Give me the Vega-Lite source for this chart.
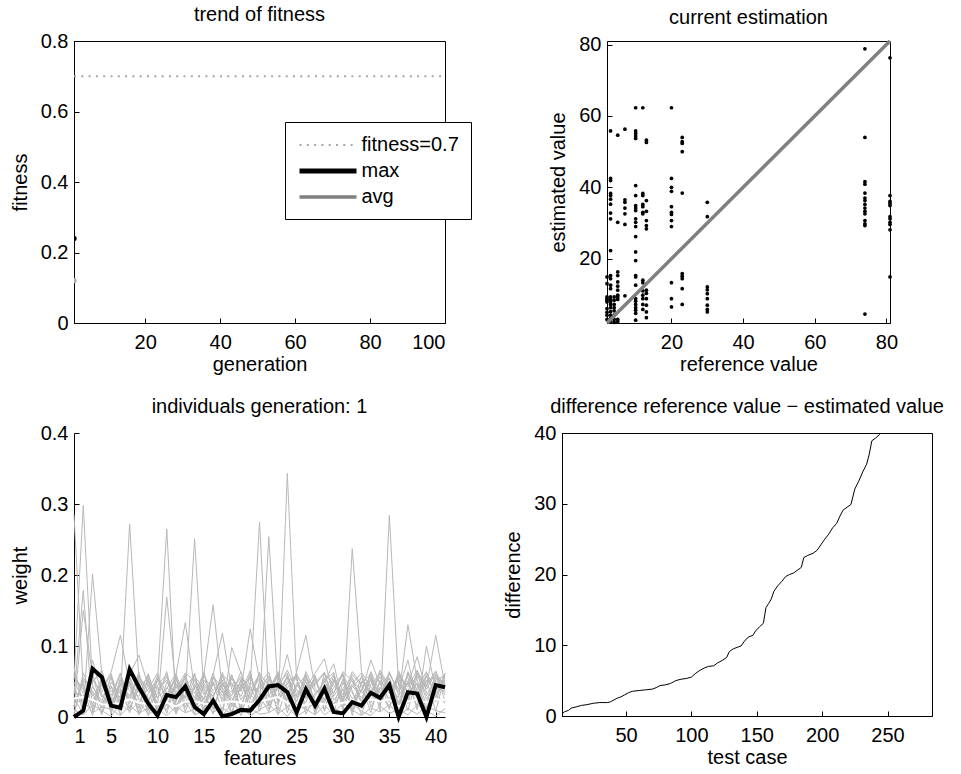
{
  "$schema": "https://vega.github.io/schema/vega-lite/v6.json",
  "background": "white",
  "padding": {"left": 9, "top": 4, "right": 5, "bottom": 5},
  "config": {
    "font": "Liberation Sans",
    "view": {"stroke": "black", "strokeWidth": 1},
    "axis": {"grid": false, "domainColor": "black", "tickColor": "black", "labelColor": "black", "titleColor": "black", "labelFontSize": 20, "titleFontSize": 20, "titleFontWeight": "normal", "tickSize": -5, "labelPadding": 11, "labelFont": "Liberation Sans", "titleFont": "Liberation Sans", "titlePadding": 10},
    "axisX": {"labelPadding": 14, "titlePadding": 2},
    "title": {"fontSize": 20, "fontWeight": "normal", "color": "black", "font": "Liberation Sans", "offset": 6, "anchor": "middle", "frame": "group"}
  },
  "datasets": {
    "fit": [
      {"s": "fitness=0.7", "g": 1, "v": 0.7},
      {"s": "fitness=0.7", "g": 100, "v": 0.7},
      {"s": "max", "g": 1, "v": 0.24},
      {"s": "avg", "g": 1, "v": 0.12}
    ],
    "est": [
      {"r":2,"e":14.9},{"r":2,"e":13.0},{"r":2,"e":9.3},{"r":2,"e":8.8},{"r":2,"e":8.4},{"r":2,"e":7.9},{"r":2,"e":6.0},{"r":2,"e":5.0},{"r":2,"e":4.2},{"r":2,"e":3.0},
      {"r":3,"e":55.8},{"r":3,"e":42.5},{"r":3,"e":41.9},{"r":3,"e":38.3},{"r":3,"e":37.7},{"r":3,"e":36.7},{"r":3,"e":35.3},{"r":3,"e":32.8},{"r":3,"e":31.2},{"r":3,"e":22.3},{"r":3,"e":15.3},{"r":3,"e":14.4},{"r":3,"e":12.6},{"r":3,"e":11.6},{"r":3,"e":9.3},{"r":3,"e":8.6},{"r":3,"e":8.0},{"r":3,"e":7.2},{"r":3,"e":6.3},{"r":3,"e":5.2},{"r":3,"e":4.2},{"r":3,"e":3.3},{"r":3,"e":2.5},
      {"r":4,"e":9.3},{"r":4,"e":8.4},{"r":4,"e":7.2},{"r":4,"e":6.3},{"r":4,"e":5.4},{"r":4,"e":4.2},{"r":4,"e":3.0},{"r":4,"e":2.2},
      {"r":5,"e":54.6},{"r":5,"e":30.2},{"r":5,"e":16.3},{"r":5,"e":15.3},{"r":5,"e":13.5},{"r":5,"e":12.3},{"r":5,"e":11.2},{"r":5,"e":9.8},{"r":5,"e":9.3},{"r":5,"e":8.6},{"r":5,"e":3.0},{"r":5,"e":2.4},
      {"r":7,"e":56.3},{"r":7,"e":36.5},{"r":7,"e":35.8},{"r":7,"e":34.2},{"r":7,"e":32.6},{"r":7,"e":29.6},{"r":7,"e":9.6},
      {"r":10,"e":62.3},{"r":10,"e":55.8},{"r":10,"e":55.1},{"r":10,"e":54.4},{"r":10,"e":53.7},{"r":10,"e":40.5},{"r":10,"e":37.7},{"r":10,"e":34.9},{"r":10,"e":34.2},{"r":10,"e":33.5},{"r":10,"e":31.2},{"r":10,"e":30.2},{"r":10,"e":29.0},{"r":10,"e":26.2},{"r":10,"e":21.9},{"r":10,"e":19.5},{"r":10,"e":15.3},{"r":10,"e":14.9},{"r":10,"e":12.6},{"r":10,"e":8.8},{"r":10,"e":8.1},{"r":10,"e":7.2},{"r":10,"e":6.3},{"r":10,"e":5.6},{"r":10,"e":4.7},{"r":10,"e":2.8},
      {"r":12,"e":62.3},{"r":12,"e":38.3},{"r":12,"e":37.7},{"r":12,"e":35.2},{"r":12,"e":34.6},{"r":12,"e":33.0},{"r":12,"e":32.6},{"r":12,"e":14.0},{"r":12,"e":13.3},{"r":12,"e":11.0},{"r":12,"e":9.8},{"r":12,"e":8.8},{"r":12,"e":7.2},{"r":12,"e":5.8},
      {"r":13,"e":53.2},{"r":13,"e":52.6},{"r":13,"e":36.3},{"r":13,"e":33.3},{"r":13,"e":30.7},{"r":13,"e":29.3},{"r":13,"e":28.4},{"r":13,"e":11.2},{"r":13,"e":10.3},{"r":13,"e":8.8},{"r":13,"e":7.0},{"r":13,"e":5.1},{"r":13,"e":3.5},
      {"r":20,"e":62.3},{"r":20,"e":42.5},{"r":20,"e":40.0},{"r":20,"e":38.9},{"r":20,"e":34.6},{"r":20,"e":33.0},{"r":20,"e":32.4},{"r":20,"e":30.7},{"r":20,"e":29.0},{"r":20,"e":13.3},{"r":20,"e":8.8},{"r":20,"e":6.5},
      {"r":23,"e":54.0},{"r":23,"e":52.8},{"r":23,"e":52.3},{"r":23,"e":50.0},{"r":23,"e":38.4},{"r":23,"e":15.8},{"r":23,"e":15.1},{"r":23,"e":14.4},{"r":23,"e":11.6},{"r":23,"e":7.2},
      {"r":30,"e":35.8},{"r":30,"e":31.8},{"r":30,"e":12.1},{"r":30,"e":11.3},{"r":30,"e":10.2},{"r":30,"e":8.8},{"r":30,"e":7.0},{"r":30,"e":5.8},{"r":30,"e":5.1},
      {"r":74,"e":78.8},{"r":74,"e":54.0},{"r":74,"e":41.6},{"r":74,"e":40.9},{"r":74,"e":38.4},{"r":74,"e":37.0},{"r":74,"e":36.3},{"r":74,"e":35.2},{"r":74,"e":34.2},{"r":74,"e":33.3},{"r":74,"e":32.6},{"r":74,"e":30.7},{"r":74,"e":29.8},{"r":74,"e":29.3},{"r":74,"e":4.5},
      {"r":81,"e":76.3},{"r":81,"e":37.7},{"r":81,"e":36.1},{"r":81,"e":35.5},{"r":81,"e":34.9},{"r":81,"e":31.8},{"r":81,"e":31.2},{"r":81,"e":30.2},{"r":81,"e":29.6},{"r":81,"e":28.1},{"r":81,"e":14.9}
    ],
    "diag": [{"r": 2, "e": 2}, {"r": 81, "e": 81}],
    "ind": [
      {"f":1,"a":0.285,"b":0.052,"c":0.031,"d":0.012,"e":0.044,"f2":0.060,"g":0.005,"h":0.038,"i":0.021,"j":0.049,"k":0.002,"l":0.027,"m":0.057,"n":0.016,"o":0.070,"p":0.035,"q":0.010,"r":0.020,"mx":0.000,"av":0.026},
      {"f":2,"a":0.041,"b":0.298,"c":0.178,"d":0.150,"e":0.009,"f2":0.033,"g":0.055,"h":0.018,"i":0.047,"j":0.026,"k":0.062,"l":0.004,"m":0.039,"n":0.051,"o":0.014,"p":0.029,"q":0.003,"r":0.024,"mx":0.009,"av":0.028},
      {"f":3,"a":0.018,"b":0.045,"c":0.007,"d":0.058,"e":0.201,"f2":0.024,"g":0.036,"h":0.063,"i":0.011,"j":0.052,"k":0.029,"l":0.043,"m":0.002,"n":0.034,"o":0.080,"p":0.049,"q":0.017,"r":0.006,"mx":0.068,"av":0.024},
      {"f":4,"a":0.054,"b":0.013,"c":0.047,"d":0.028,"e":0.061,"f2":0.040,"g":0.019,"h":0.006,"i":0.058,"j":0.035,"k":0.045,"l":0.022,"m":0.050,"n":0.003,"o":0.031,"p":0.066,"q":0.009,"r":0.014,"mx":0.056,"av":0.018},
      {"f":5,"a":0.008,"b":0.058,"c":0.025,"d":0.044,"e":0.016,"f2":0.063,"g":0.037,"h":0.049,"i":0.004,"j":0.061,"k":0.020,"l":0.056,"m":0.030,"n":0.043,"o":0.012,"p":0.024,"q":0.001,"r":0.011,"mx":0.016,"av":0.017},
      {"f":6,"a":0.046,"b":0.021,"c":0.060,"d":0.003,"e":0.052,"f2":0.115,"g":0.028,"h":0.033,"i":0.055,"j":0.014,"k":0.040,"l":0.009,"m":0.062,"n":0.027,"o":0.048,"p":0.036,"q":0.019,"r":0.002,"mx":0.013,"av":0.020},
      {"f":7,"a":0.030,"b":0.050,"c":0.013,"d":0.057,"e":0.026,"f2":0.044,"g":0.272,"h":0.060,"i":0.037,"j":0.047,"k":0.006,"l":0.064,"m":0.019,"n":0.055,"o":0.023,"p":0.011,"q":0.008,"r":0.016,"mx":0.067,"av":0.025},
      {"f":8,"a":0.059,"b":0.006,"c":0.042,"d":0.024,"e":0.063,"f2":0.017,"g":0.051,"h":0.087,"i":0.029,"j":0.003,"k":0.054,"l":0.035,"m":0.046,"n":0.012,"o":0.058,"p":0.040,"q":0.022,"r":0.005,"mx":0.042,"av":0.020},
      {"f":9,"a":0.022,"b":0.047,"c":0.056,"d":0.039,"e":0.011,"f2":0.053,"g":0.002,"h":0.044,"i":0.061,"j":0.032,"k":0.025,"l":0.050,"m":0.008,"n":0.059,"o":0.036,"p":0.018,"q":0.004,"r":0.013,"mx":0.019,"av":0.018},
      {"f":10,"a":0.051,"b":0.028,"c":0.004,"d":0.062,"e":0.034,"f2":0.009,"g":0.045,"h":0.020,"i":0.015,"j":0.056,"k":0.038,"l":0.013,"m":0.053,"n":0.026,"o":0.043,"p":0.058,"q":0.012,"r":0.001,"mx":0.002,"av":0.018},
      {"f":11,"a":0.265,"b":0.040,"c":0.049,"d":0.016,"e":0.057,"f2":0.031,"g":0.060,"h":0.010,"i":0.169,"j":0.023,"k":0.052,"l":0.041,"m":0.028,"n":0.064,"o":0.005,"p":0.034,"q":0.002,"r":0.018,"mx":0.031,"av":0.020},
      {"f":12,"a":0.012,"b":0.061,"c":0.035,"d":0.045,"e":0.004,"f2":0.058,"g":0.024,"h":0.052,"i":0.040,"j":0.060,"k":0.017,"l":0.030,"m":0.055,"n":0.009,"o":0.047,"p":0.021,"q":0.015,"r":0.007,"mx":0.028,"av":0.015},
      {"f":13,"a":0.048,"b":0.019,"c":0.058,"d":0.027,"e":0.042,"f2":0.013,"g":0.050,"h":0.036,"i":0.062,"j":0.133,"k":0.031,"l":0.055,"m":0.007,"n":0.044,"o":0.026,"p":0.060,"q":0.006,"r":0.021,"mx":0.043,"av":0.022},
      {"f":14,"a":0.027,"b":0.054,"c":0.010,"d":0.060,"e":0.023,"f2":0.046,"g":0.033,"h":0.004,"i":0.051,"j":0.039,"k":0.251,"l":0.018,"m":0.043,"n":0.057,"o":0.062,"p":0.014,"q":0.011,"r":0.003,"mx":0.014,"av":0.022},
      {"f":15,"a":0.063,"b":0.032,"c":0.044,"d":0.008,"e":0.058,"f2":0.024,"g":0.061,"h":0.047,"i":0.019,"j":0.012,"k":0.036,"l":0.059,"m":0.026,"n":0.040,"o":0.003,"p":0.052,"q":0.020,"r":0.009,"mx":0.004,"av":0.019},
      {"f":16,"a":0.016,"b":0.049,"c":0.027,"d":0.055,"e":0.037,"f2":0.062,"g":0.011,"h":0.029,"i":0.046,"j":0.057,"k":0.004,"l":0.158,"m":0.060,"n":0.021,"o":0.050,"p":0.033,"q":0.007,"r":0.015,"mx":0.023,"av":0.017},
      {"f":17,"a":0.044,"b":0.007,"c":0.063,"d":0.034,"e":0.052,"f2":0.020,"g":0.048,"h":0.058,"i":0.025,"j":0.041,"k":0.059,"l":0.037,"m":0.118,"n":0.005,"o":0.030,"p":0.046,"q":0.013,"r":0.002,"mx":0.001,"av":0.020},
      {"f":18,"a":0.035,"b":0.059,"c":0.018,"d":0.047,"e":0.006,"f2":0.054,"g":0.030,"h":0.014,"i":0.060,"j":0.022,"k":0.048,"l":0.003,"m":0.039,"n":0.098,"o":0.056,"p":0.027,"q":0.004,"r":0.019,"mx":0.004,"av":0.022},
      {"f":19,"a":0.057,"b":0.024,"c":0.051,"d":0.011,"e":0.045,"f2":0.036,"g":0.064,"h":0.041,"i":0.008,"j":0.053,"k":0.029,"l":0.047,"m":0.015,"n":0.062,"o":0.038,"p":0.002,"q":0.016,"r":0.008,"mx":0.010,"av":0.020},
      {"f":20,"a":0.005,"b":0.043,"c":0.037,"d":0.059,"e":0.028,"f2":0.065,"g":0.018,"h":0.055,"i":0.034,"j":0.010,"k":0.061,"l":0.025,"m":0.049,"n":0.032,"o":0.124,"p":0.044,"q":0.002,"r":0.012,"mx":0.009,"av":0.018},
      {"f":21,"a":0.050,"b":0.014,"c":0.061,"d":0.022,"e":0.060,"f2":0.008,"g":0.042,"h":0.031,"i":0.054,"j":0.046,"k":0.020,"l":0.063,"m":0.035,"n":0.017,"o":0.052,"p":0.274,"q":0.010,"r":0.004,"mx":0.024,"av":0.022},
      {"f":22,"a":0.028,"b":0.254,"c":0.045,"d":0.053,"e":0.019,"f2":0.048,"g":0.057,"h":0.007,"i":0.038,"j":0.063,"k":0.044,"l":0.016,"m":0.058,"n":0.039,"o":0.011,"p":0.030,"q":0.018,"r":0.006,"mx":0.043,"av":0.025},
      {"f":23,"a":0.061,"b":0.037,"c":0.009,"d":0.040,"e":0.054,"f2":0.027,"g":0.003,"h":0.050,"i":0.064,"j":0.020,"k":0.056,"l":0.042,"m":0.023,"n":0.060,"o":0.045,"p":0.018,"q":0.005,"r":0.014,"mx":0.045,"av":0.028},
      {"f":24,"a":0.019,"b":0.056,"c":0.343,"d":0.088,"e":0.031,"f2":0.059,"g":0.047,"h":0.024,"i":0.013,"j":0.058,"k":0.035,"l":0.066,"m":0.041,"n":0.006,"o":0.062,"p":0.050,"q":0.014,"r":0.001,"mx":0.035,"av":0.020},
      {"f":25,"a":0.045,"b":0.003,"c":0.052,"d":0.030,"e":0.063,"f2":0.015,"g":0.056,"h":0.061,"i":0.043,"j":0.027,"k":0.009,"l":0.038,"m":0.055,"n":0.048,"o":0.021,"p":0.058,"q":0.001,"r":0.017,"mx":0.006,"av":0.015},
      {"f":26,"a":0.031,"b":0.060,"c":0.026,"d":0.057,"e":0.115,"f2":0.041,"g":0.012,"h":0.036,"i":0.059,"j":0.049,"k":0.053,"l":0.020,"m":0.004,"n":0.028,"o":0.064,"p":0.039,"q":0.009,"r":0.011,"mx":0.039,"av":0.017},
      {"f":27,"a":0.058,"b":0.021,"c":0.048,"d":0.004,"e":0.040,"f2":0.062,"g":0.033,"h":0.053,"i":0.017,"j":0.006,"k":0.045,"l":0.059,"m":0.030,"n":0.054,"o":0.035,"p":0.013,"q":0.021,"r":0.003,"mx":0.016,"av":0.020},
      {"f":28,"a":0.010,"b":0.046,"c":0.063,"d":0.036,"e":0.025,"f2":0.082,"g":0.049,"h":0.019,"i":0.055,"j":0.042,"k":0.062,"l":0.008,"m":0.051,"n":0.023,"o":0.040,"p":0.061,"q":0.003,"r":0.016,"mx":0.040,"av":0.018},
      {"f":29,"a":0.053,"b":0.033,"c":0.015,"d":0.061,"e":0.047,"f2":0.029,"g":0.075,"h":0.058,"i":0.006,"j":0.034,"k":0.024,"l":0.052,"m":0.063,"n":0.041,"o":0.017,"p":0.045,"q":0.012,"r":0.005,"mx":0.007,"av":0.017},
      {"f":30,"a":0.024,"b":0.062,"c":0.040,"d":0.018,"e":0.059,"f2":0.050,"g":0.021,"h":0.009,"i":0.048,"j":0.064,"k":0.039,"l":0.031,"m":0.012,"n":0.058,"o":0.054,"p":0.028,"q":0.006,"r":0.020,"mx":0.005,"av":0.020},
      {"f":31,"a":0.047,"b":0.011,"c":0.056,"d":0.043,"e":0.002,"f2":0.034,"g":0.060,"h":0.237,"i":0.026,"j":0.051,"k":0.015,"l":0.064,"m":0.044,"n":0.037,"o":0.007,"p":0.053,"q":0.019,"r":0.010,"mx":0.021,"av":0.022},
      {"f":32,"a":0.062,"b":0.039,"c":0.022,"d":0.055,"e":0.050,"f2":0.012,"g":0.044,"h":0.063,"i":0.035,"j":0.019,"k":0.058,"l":0.046,"m":0.027,"n":0.003,"o":0.049,"p":0.036,"q":0.008,"r":0.002,"mx":0.016,"av":0.020},
      {"f":33,"a":0.014,"b":0.057,"c":0.064,"d":0.029,"e":0.036,"f2":0.055,"g":0.006,"h":0.042,"i":0.080,"j":0.061,"k":0.033,"l":0.024,"m":0.052,"n":0.046,"o":0.060,"p":0.020,"q":0.002,"r":0.013,"mx":0.034,"av":0.025},
      {"f":34,"a":0.040,"b":0.026,"c":0.034,"d":0.063,"e":0.057,"f2":0.019,"g":0.052,"h":0.030,"i":0.045,"j":0.008,"k":0.066,"l":0.050,"m":0.016,"n":0.061,"o":0.028,"p":0.042,"q":0.015,"r":0.007,"mx":0.027,"av":0.022},
      {"f":35,"a":0.055,"b":0.064,"c":0.012,"d":0.038,"e":0.021,"f2":0.046,"g":0.037,"h":0.055,"i":0.060,"j":0.284,"k":0.043,"l":0.011,"m":0.062,"n":0.033,"o":0.050,"p":0.025,"q":0.005,"r":0.018,"mx":0.045,"av":0.025},
      {"f":36,"a":0.020,"b":0.031,"c":0.058,"d":0.050,"e":0.065,"f2":0.005,"g":0.058,"h":0.016,"i":0.039,"j":0.043,"k":0.027,"l":0.060,"m":0.036,"n":0.054,"o":0.013,"p":0.062,"q":0.011,"r":0.001,"mx":0.000,"av":0.015},
      {"f":37,"a":0.061,"b":0.048,"c":0.042,"d":0.009,"e":0.033,"f2":0.063,"g":0.024,"h":0.051,"i":0.080,"j":0.037,"k":0.130,"l":0.045,"m":0.056,"n":0.019,"o":0.064,"p":0.034,"q":0.003,"r":0.012,"mx":0.035,"av":0.022},
      {"f":38,"a":0.033,"b":0.015,"c":0.066,"d":0.057,"e":0.046,"f2":0.028,"g":0.062,"h":0.040,"i":0.022,"j":0.060,"k":0.052,"l":0.085,"m":0.010,"n":0.065,"o":0.037,"p":0.048,"q":0.017,"r":0.004,"mx":0.033,"av":0.025},
      {"f":39,"a":0.052,"b":0.062,"c":0.030,"d":0.044,"e":0.012,"f2":0.057,"g":0.039,"h":0.064,"i":0.050,"j":0.025,"k":0.018,"l":0.035,"m":0.100,"n":0.042,"o":0.058,"p":0.007,"q":0.009,"r":0.015,"mx":0.000,"av":0.020},
      {"f":40,"a":0.008,"b":0.041,"c":0.055,"d":0.065,"e":0.049,"f2":0.033,"g":0.063,"h":0.027,"i":0.057,"j":0.046,"k":0.060,"l":0.021,"m":0.038,"n":0.115,"o":0.031,"p":0.052,"q":0.001,"r":0.009,"mx":0.045,"av":0.025},
      {"f":41,"a":0.058,"b":0.036,"c":0.047,"d":0.022,"e":0.060,"f2":0.052,"g":0.043,"h":0.062,"i":0.031,"j":0.055,"k":0.037,"l":0.061,"m":0.050,"n":0.044,"o":0.020,"p":0.058,"q":0.012,"r":0.006,"mx":0.042,"av":0.024}
    ],
    "diff": [
      {"t":1,"d":0.3},{"t":3,"d":0.6},{"t":6,"d":0.8},{"t":8,"d":1.1},{"t":12,"d":1.3},{"t":16,"d":1.5},{"t":20,"d":1.6},{"t":25,"d":1.8},{"t":30,"d":1.9},{"t":36,"d":1.9},{"t":38,"d":2.0},{"t":40,"d":2.2},{"t":43,"d":2.5},{"t":46,"d":2.7},{"t":49,"d":3.0},{"t":52,"d":3.3},{"t":55,"d":3.5},{"t":60,"d":3.6},{"t":65,"d":3.7},{"t":70,"d":3.8},{"t":73,"d":4.0},{"t":76,"d":4.3},{"t":80,"d":4.4},{"t":84,"d":4.6},{"t":88,"d":5.0},{"t":92,"d":5.2},{"t":96,"d":5.3},{"t":100,"d":5.5},{"t":103,"d":6.0},{"t":106,"d":6.4},{"t":110,"d":6.8},{"t":113,"d":7.0},{"t":117,"d":7.1},{"t":120,"d":7.5},{"t":124,"d":7.9},{"t":127,"d":8.3},{"t":129,"d":9.1},{"t":132,"d":9.5},{"t":135,"d":9.7},{"t":138,"d":9.9},{"t":141,"d":10.7},{"t":144,"d":11.2},{"t":147,"d":11.4},{"t":149,"d":12.0},{"t":152,"d":12.6},{"t":155,"d":13.1},{"t":157,"d":15.3},{"t":159,"d":15.9},{"t":161,"d":16.5},{"t":163,"d":17.6},{"t":166,"d":18.4},{"t":169,"d":19.0},{"t":172,"d":19.7},{"t":175,"d":20.0},{"t":178,"d":20.2},{"t":181,"d":20.6},{"t":184,"d":21.0},{"t":186,"d":22.4},{"t":189,"d":22.7},{"t":193,"d":23.0},{"t":196,"d":23.4},{"t":199,"d":24.2},{"t":202,"d":25.0},{"t":205,"d":25.7},{"t":208,"d":26.6},{"t":211,"d":27.2},{"t":214,"d":28.4},{"t":216,"d":29.1},{"t":219,"d":29.5},{"t":222,"d":29.9},{"t":225,"d":32.1},{"t":228,"d":33.2},{"t":231,"d":34.5},{"t":234,"d":35.6},{"t":236,"d":37.0},{"t":238,"d":38.9},{"t":241,"d":39.3},{"t":244,"d":39.8},{"t":246,"d":40.3},{"t":249,"d":42.5},{"t":252,"d":44.8},{"t":256,"d":47.5},{"t":260,"d":50.1},{"t":264,"d":53.0},{"t":268,"d":56.4},{"t":272,"d":60.2},{"t":276,"d":64.5},{"t":280,"d":70.3},{"t":283,"d":77.0}
    ]
  },
  "spacing": 21,
  "vconcat": [
    {
      "spacing": 162,
      "bounds": "flush",
      "hconcat": [
        {
          "width": 371, "height": 282,
          "title": "trend of fitness",
          "data": {"name": "fit"},
          "layer": [
            {
              "mark": {"type": "line", "clip": true},
              "encoding": {
                "x": {"field": "g", "type": "quantitative", "scale": {"domain": [1, 100], "nice": false, "zero": false}, "axis": {"title": "generation", "values": [20, 40, 60, 80, 100]}},
                "y": {"field": "v", "type": "quantitative", "scale": {"domain": [0, 0.8], "nice": false}, "axis": {"title": "fitness", "values": [0, 0.2, 0.4, 0.6, 0.8], "labelExpr": "datum.value == 0 ? '0' : format(datum.value, '.1f')"}},
                "color": {"field": "s", "type": "nominal", "scale": {"domain": ["fitness=0.7", "max", "avg"], "range": ["#a6a6a6", "#000000", "#808080"]},
                  "legend": {"title": null, "orient": "none", "legendX": 211, "legendY": 81, "symbolType": "M-2.85,0H2.85", "symbolSize": 400, "symbolOffset": 18.5, "labelFontSize": 20, "labelColor": "black", "labelFont": "Liberation Sans", "strokeColor": "black", "fillColor": "white", "padding": 12, "rowPadding": 3.5, "labelOffset": 21}},
                "strokeDash": {"field": "s", "type": "nominal", "scale": {"domain": ["fitness=0.7", "max", "avg"], "range": [[2, 5.3], [1, 0], [1, 0]]}},
                "strokeWidth": {"field": "s", "type": "nominal", "scale": {"type": "ordinal", "domain": ["fitness=0.7", "max", "avg"], "range": [2, 5, 3.5]}}
              }
            },
            {
              "transform": [{"filter": "datum.s != 'fitness=0.7'"}],
              "mark": {"type": "point", "filled": true, "size": 28, "opacity": 1, "clip": true},
              "encoding": {
                "x": {"field": "g", "type": "quantitative"},
                "y": {"field": "v", "type": "quantitative"},
                "color": {"condition": {"test": "datum.s == 'max'", "value": "black"}, "value": "#b0b0b0"}
              }
            }
          ]
        },
        {
          "width": 283, "height": 282,
          "title": "current estimation",
          "layer": [
            {
              "data": {"name": "est"},
              "mark": {"type": "circle", "size": 14, "color": "black", "opacity": 1},
              "encoding": {
                "x": {"field": "r", "type": "quantitative", "scale": {"domain": [2, 81], "nice": false, "zero": false}, "axis": {"title": "reference value", "values": [20, 40, 60, 80]}},
                "y": {"field": "e", "type": "quantitative", "scale": {"domain": [2, 81], "nice": false, "zero": false}, "axis": {"title": "estimated value", "values": [20, 40, 60, 80]}}
              }
            },
            {
              "data": {"name": "diag"},
              "mark": {"type": "line", "color": "#808080", "strokeWidth": 3.5},
              "encoding": {
                "x": {"field": "r", "type": "quantitative"},
                "y": {"field": "e", "type": "quantitative"}
              }
            }
          ]
        }
      ]
    },
    {
      "spacing": 117,
      "bounds": "flush",
      "hconcat": [
        {
          "width": 371, "height": 284,
          "title": "individuals generation: 1",
          "view": {"stroke": null},
          "data": {"name": "ind"},
          "layer": [
            {
              "transform": [{"fold": ["a", "b", "c", "d", "e", "f2", "g", "h", "i", "j", "k", "l", "m", "n", "o", "p", "q", "r"], "as": ["ind", "w"]}],
              "mark": {"type": "line", "color": "#b8b8b8", "strokeWidth": 1},
              "encoding": {
                "x": {"field": "f", "type": "quantitative", "scale": {"domain": [1, 41], "nice": false, "zero": false}, "axis": {"title": "features", "values": [1, 5, 10, 15, 20, 25, 30, 35, 40]}},
                "y": {"field": "w", "type": "quantitative", "scale": {"domain": [0, 0.4], "nice": false}, "axis": {"title": "weight", "values": [0, 0.1, 0.2, 0.3, 0.4], "labelExpr": "datum.value == 0 ? '0' : format(datum.value, '.1f')"}},
                "detail": {"field": "ind"}
              }
            },
            {
              "mark": {"type": "line", "color": "white", "strokeWidth": 2},
              "encoding": {
                "x": {"field": "f", "type": "quantitative", "axis": {"title": "features", "values": [1, 5, 10, 15, 20, 25, 30, 35, 40]}},
                "y": {"field": "av", "type": "quantitative", "axis": {"title": "weight", "values": [0, 0.1, 0.2, 0.3, 0.4], "labelExpr": "datum.value == 0 ? '0' : format(datum.value, '.1f')"}}
              }
            },
            {
              "mark": {"type": "line", "color": "black", "strokeWidth": 4},
              "encoding": {
                "x": {"field": "f", "type": "quantitative", "axis": {"title": "features", "values": [1, 5, 10, 15, 20, 25, 30, 35, 40]}},
                "y": {"field": "mx", "type": "quantitative", "axis": {"title": "weight", "values": [0, 0.1, 0.2, 0.3, 0.4], "labelExpr": "datum.value == 0 ? '0' : format(datum.value, '.1f')"}}
              }
            }
          ]
        },
        {
          "width": 370, "height": 283,
          "title": "difference reference value − estimated value",
          "data": {"name": "diff"},
          "mark": {"type": "line", "color": "black", "strokeWidth": 1, "clip": true},
          "encoding": {
            "x": {"field": "t", "type": "quantitative", "scale": {"domain": [1, 284], "nice": false, "zero": false}, "axis": {"title": "test case", "values": [50, 100, 150, 200, 250]}},
            "y": {"field": "d", "type": "quantitative", "scale": {"domain": [0, 40], "nice": false}, "axis": {"title": "difference", "values": [0, 10, 20, 30, 40]}}
          }
        }
      ]
    }
  ]
}
